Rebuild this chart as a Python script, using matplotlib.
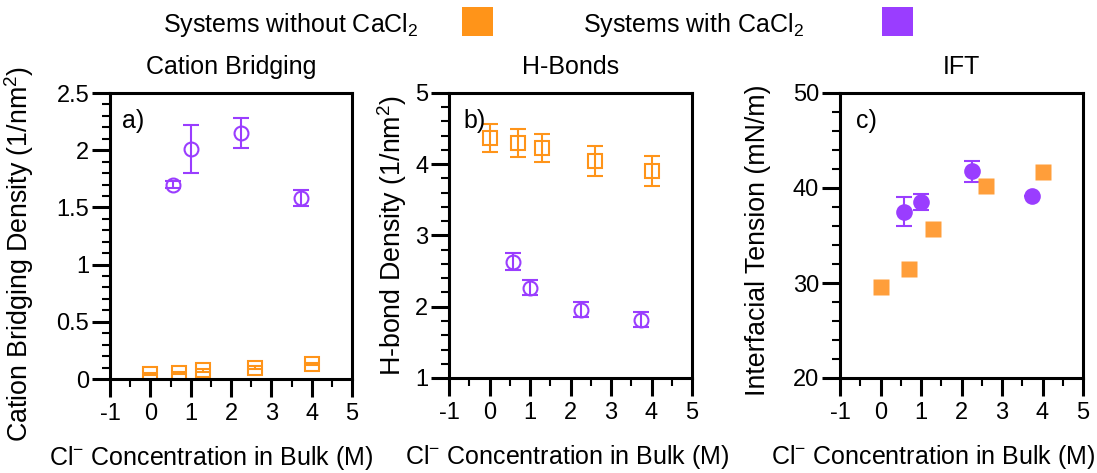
import matplotlib
matplotlib.use("Agg")
import matplotlib.pyplot as plt
from matplotlib.patches import Rectangle
from matplotlib.ticker import MultipleLocator, FuncFormatter

plt.rcParams['font.family'] = ['Liberation Sans', 'DejaVu Sans']
plt.rcParams['mathtext.default'] = 'regular'

# ---- data ----
x_without = [0.0, 0.7, 1.3, 2.6, 4.0]
x_with = [0.57, 1.0, 2.25, 3.73]

bridging_without = [0.045, 0.055, 0.075, 0.10, 0.13]
bridging_without_err = [0.01, 0.01, 0.01, 0.01, 0.01]
bridging_with = [1.70, 2.01, 2.15, 1.58]
bridging_with_err = [0.03, 0.21, 0.13, 0.07]

hbond_without = [4.37, 4.30, 4.23, 4.05, 3.90]
hbond_without_err = [0.20, 0.20, 0.20, 0.21, 0.21]
hbond_with = [2.63, 2.27, 1.96, 1.82]
hbond_with_err = [0.12, 0.10, 0.10, 0.10]

ift_without = [29.6, 31.5, 35.7, 40.2, 41.7]
ift_with = [37.5, 38.5, 41.75, 39.2]
ift_with_err = [1.55, 0.85, 1.1, 0.0]

titles = ["Cation Bridging", "H-Bonds", "IFT"]
panel_tags = ["a)", "b)", "c)"]
ylabels = ["Cation Bridging Density (1/nm$^2$)",
           "H-bond Density (1/nm$^2$)",
           "Interfacial Tension (mN/m)"]
xlabel = "Cl$^{-}$ Concentration in Bulk (M)"
legend_labels = ["Systems without CaCl$_2$", "Systems with CaCl$_2$"]

ORANGE = '#FF9419'
PURPLE = '#9A3DFF'

W, H = 1097, 473
fig = plt.figure(figsize=(W / 100, H / 100), dpi=100)


def px_rect(l, t, r, b):
    return [l / W, 1 - b / H, (r - l) / W, (b - t) / H]


ax_a = fig.add_axes(px_rect(110, 93, 352, 379))
ax_b = fig.add_axes(px_rect(449, 93, 692, 378))
ax_c = fig.add_axes(px_rect(840, 93, 1083, 378))
axes = [ax_a, ax_b, ax_c]

# ---- panel a: cation bridging ----
open_kw = dict(mfc='none', mew=1.5, ms=9.5, elinewidth=1.5, capsize=6, capthick=1.5, ls='none')
ax_a.errorbar(x_without, bridging_without, yerr=bridging_without_err, fmt='s',
              color=ORANGE, **open_kw)
ax_a.errorbar(x_with, bridging_with, yerr=bridging_with_err, fmt='o',
              color=PURPLE, **{**open_kw, 'ms': 10})
ax_a.set_ylim(0, 2.5)
ax_a.yaxis.set_major_locator(MultipleLocator(0.5))
ax_a.yaxis.set_minor_locator(MultipleLocator(0.1))

# ---- panel b: hydrogen bonds ----
ax_b.errorbar(x_without, hbond_without, yerr=hbond_without_err, fmt='s',
              color=ORANGE, **open_kw)
ax_b.errorbar(x_with, hbond_with, yerr=hbond_with_err, fmt='o',
              color=PURPLE, **{**open_kw, 'ms': 10})
ax_b.set_ylim(1, 5)
ax_b.yaxis.set_major_locator(MultipleLocator(1))
ax_b.yaxis.set_minor_locator(MultipleLocator(0.2))

# ---- panel c: interfacial tension ----
ax_c.errorbar(x_with, ift_with, yerr=ift_with_err, fmt='none', ecolor=PURPLE,
              elinewidth=1.5, capsize=6, capthick=1.5, zorder=2)
ax_c.plot(x_without, ift_without, 's', color='#FF9E3A', ms=11.5, mec='none', zorder=3)
ax_c.plot(x_with, ift_with, 'o', color=PURPLE, ms=12, mec='none', zorder=3)
ax_c.set_ylim(20, 50)
ax_c.yaxis.set_major_locator(MultipleLocator(10))
ax_c.yaxis.set_minor_locator(MultipleLocator(2))

ylabel_pos = [(-0.306, 0.437), (-0.165, 0.5), (-0.284, 0.484)]
xlabel_x = [0.417, 0.487, 0.383]
tag_x = [0.05, 0.058, 0.066]
plain = FuncFormatter(lambda v, p: f"{v:g}")

for ax, title, tag, yl, (yx, yy), xx, tx in zip(axes, titles, panel_tags, ylabels,
                                                ylabel_pos, xlabel_x, tag_x):
    ax.set_xlim(-1, 5)
    ax.xaxis.set_major_locator(MultipleLocator(1))
    ax.xaxis.set_minor_locator(MultipleLocator(0.5))
    ax.xaxis.set_major_formatter(plain)
    ax.yaxis.set_major_formatter(plain)
    for side in ax.spines.values():
        side.set_linewidth(2.2)
    ax.tick_params(which='major', direction='out', length=13, width=2.2,
                   labelsize=17, top=False, right=False)
    ax.tick_params(which='minor', direction='out', length=5.5, width=1.5,
                   top=False, right=False)
    ax.tick_params(axis='y', which='major', pad=2)
    ax.tick_params(axis='x', which='major', pad=4)
    ax.set_title(title, fontsize=18, pad=14)
    ax.set_ylabel(yl, fontsize=19.3)
    ax.yaxis.set_label_coords(yx, yy)
    ax.set_xlabel(xlabel, fontsize=18)
    ax.xaxis.set_label_coords(xx, -0.228)
    ax.text(tx, 0.945, tag, transform=ax.transAxes, fontsize=18,
            ha='left', va='top')

# ---- legend row ----
fig.text(163 / W, 1 - 32 / H, legend_labels[0], fontsize=18, ha='left', va='baseline')
fig.text(583 / W, 1 - 32 / H, legend_labels[1], fontsize=18, ha='left', va='baseline')
for (l, r), col in zip([(462, 493), (882, 913)], [ORANGE, PURPLE]):
    fig.patches.append(Rectangle((l / W, 1 - 36 / H), (r - l) / W, 29 / H,
                                 transform=fig.transFigure, facecolor=col,
                                 edgecolor='none'))

fig.savefig("out.png", dpi=100)
